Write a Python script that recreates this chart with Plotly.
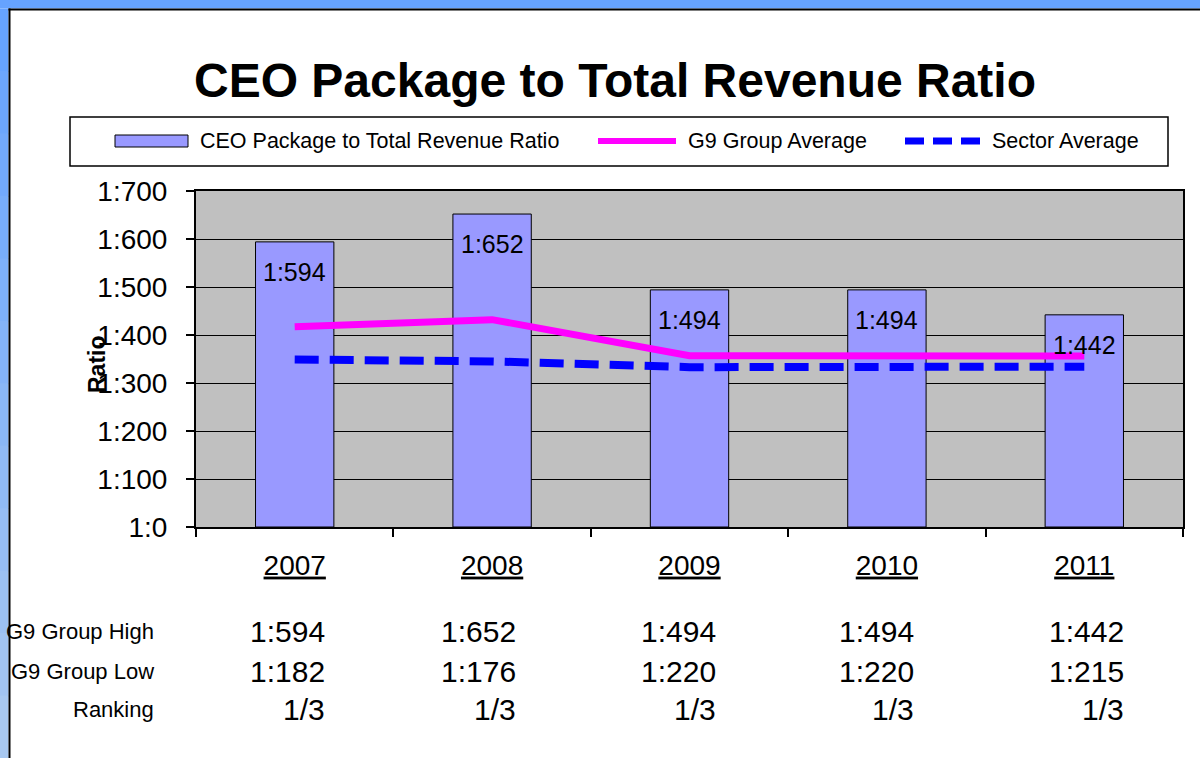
import plotly.graph_objects as go

# ---------------- data ----------------
years = ["2007", "2008", "2009", "2010", "2011"]
ceo_ratio = [594, 652, 494, 494, 442]
g9_average = [417, 432, 357, 357, 356]
sector_average = [349, 345, 333, 333, 334]
g9_high = ["1:594", "1:652", "1:494", "1:494", "1:442"]
g9_low = ["1:182", "1:176", "1:220", "1:220", "1:215"]
ranking = ["1/3", "1/3", "1/3", "1/3", "1/3"]
y_ticks = [0, 100, 200, 300, 400, 500, 600, 700]
y_ticktext = ["1:%d" % v for v in y_ticks]
table_rows = [("G9 Group High", g9_high), ("G9 Group Low", g9_low), ("Ranking", ranking)]

# ---------------- layout geometry (pixels) ----------------
W, H = 1200, 758
L, R, T, B = 196, 1183, 191, 527
FONT = "Liberation Sans, Arial, sans-serif"


def px(x):
    return (x - L) / (R - L)


def py(y):
    return (B - y) / (B - T)


fig = go.Figure()
fig.add_trace(go.Bar(
    x=years, y=ceo_ratio, name="CEO Package to Total Revenue Ratio",
    marker=dict(color="#9999FF", line=dict(color="black", width=1)),
    width=0.397, showlegend=False, hoverinfo="y"))
fig.add_trace(go.Scatter(
    x=years, y=g9_average, name="G9 Group Average", mode="lines",
    line=dict(color="#FF00FF", width=7), showlegend=False))
fig.add_trace(go.Scatter(
    x=years, y=sector_average, name="Sector Average", mode="lines",
    line=dict(color="#0000FF", width=8, dash="24px,11px"), showlegend=False))

shapes = []
annotations = []

# frame: blue band + black rule
shapes.append(dict(type="rect", xref="paper", yref="paper", x0=px(0), x1=px(W), y0=py(0), y1=py(8.5),
                   fillcolor="#66A3FF", line=dict(width=0), layer="above"))
steps = 12
for i in range(steps):
    t = i / (steps - 1)
    r = int(0x66 + (0xA8 - 0x66) * t)
    g = int(0xA3 + (0xC8 - 0xA3) * t)
    b = int(0xFF + (0xF0 - 0xFF) * t)
    y0 = 8.5 + (H - 8.5) * i / steps
    y1 = 8.5 + (H - 8.5) * (i + 1) / steps
    shapes.append(dict(type="rect", xref="paper", yref="paper", x0=px(0), x1=px(8.5), y0=py(y0), y1=py(y1 + 1),
                       fillcolor="#%02X%02X%02X" % (r, g, b), line=dict(width=0), layer="above"))
shapes.append(dict(type="line", xref="paper", yref="paper", x0=px(8.5), x1=px(W), y0=py(9.5), y1=py(9.5),
                   line=dict(color="black", width=2), layer="above"))
shapes.append(dict(type="line", xref="paper", yref="paper", x0=px(9.5), x1=px(9.5), y0=py(8.5), y1=py(H),
                   line=dict(color="black", width=2), layer="above"))

# legend (drawn manually)
shapes.append(dict(type="rect", xref="paper", yref="paper", x0=px(70), x1=px(1168), y0=py(117), y1=py(166),
                   fillcolor="white", line=dict(color="black", width=1.5)))
shapes.append(dict(type="rect", xref="paper", yref="paper", x0=px(115), x1=px(188), y0=py(135), y1=py(147),
                   fillcolor="#9999FF", line=dict(color="black", width=1)))
shapes.append(dict(type="line", xref="paper", yref="paper", x0=px(598), x1=px(676), y0=py(141), y1=py(141),
                   line=dict(color="#FF00FF", width=6)))
shapes.append(dict(type="line", xref="paper", yref="paper", x0=px(905), x1=px(980), y0=py(141), y1=py(141),
                   line=dict(color="#0000FF", width=7, dash="19px,9px")))
for xpos, txt in [(198, "CEO Package to Total Revenue Ratio"), (686, "G9 Group Average"), (990, "Sector Average")]:
    annotations.append(dict(xref="paper", yref="paper", x=px(xpos), y=py(141), text=txt, showarrow=False,
                            xanchor="left", yanchor="middle", font=dict(family=FONT, size=21.5, color="black")))

# title
annotations.append(dict(xref="paper", yref="paper", x=px(614.5), y=py(80), text="<b>CEO Package to Total Revenue Ratio</b>",
                        showarrow=False, xanchor="center", yanchor="middle",
                        font=dict(family=FONT, size=48, color="black")))

# y-axis title
annotations.append(dict(xref="paper", yref="paper", x=px(97), y=py(364), text="<b>Ratio</b>", textangle=-90,
                        showarrow=False, xanchor="center", yanchor="middle",
                        font=dict(family=FONT, size=23, color="black")))

# bar labels (category axis -> use category index)
for i, v in enumerate(ceo_ratio):
    annotations.append(dict(xref="x", yref="y", x=i, y=v, yshift=-30, text="1:%d" % v, showarrow=False,
                            xanchor="center", yanchor="middle", font=dict(family=FONT, size=25, color="black")))

# data table below the chart
row_y = [631, 671, 709]
col_shift = [32, 26, 28, 29, 42]
for (label, vals), ry in zip(table_rows, row_y):
    annotations.append(dict(xref="paper", yref="paper", x=px(156), y=py(ry), text=label, showarrow=False,
                            xanchor="right", yanchor="middle", font=dict(family=FONT, size=22, color="black")))
    for i, (val, sh) in enumerate(zip(vals, col_shift)):
        annotations.append(dict(xref="x", yref="paper", x=i, xshift=sh, y=py(ry), text=val, showarrow=False,
                                xanchor="right", yanchor="middle", font=dict(family=FONT, size=30, color="black")))

fig.update_layout(
    width=W, height=H,
    margin=dict(l=L, r=W - R, t=T, b=H - B, pad=0),
    paper_bgcolor="white", plot_bgcolor="#C0C0C0",
    font=dict(family=FONT, color="black"),
    showlegend=False,
    shapes=shapes, annotations=annotations,
    xaxis=dict(type="category", categoryorder="array", categoryarray=years,
               range=[-0.5, len(years) - 0.5], autorange=False,
               tickmode="array", tickvals=years,
               ticktext=["<u>%s</u>" % y for y in years],
               tickson="boundaries", ticks="outside", ticklen=8, tickcolor="black", tickwidth=1.5,
               showline=True, linecolor="black", linewidth=2, mirror=True, showgrid=False,
               tickfont=dict(family=FONT, size=28, color="black"), ticklabelstandoff=12),
    yaxis=dict(range=[0, 700], autorange=False, tickmode="array", tickvals=y_ticks, ticktext=y_ticktext,
               ticks="outside", ticklen=8, tickcolor="black", tickwidth=1.5,
               showline=True, linecolor="black", linewidth=2, mirror=True,
               showgrid=True, gridcolor="black", gridwidth=1, zeroline=False,
               tickfont=dict(family=FONT, size=28, color="black"), ticklabelstandoff=13),
)

fig.write_html("out.html", config={"displayModeBar": False},
               post_script="document.body.style.margin='0';document.body.style.overflow='hidden';")
